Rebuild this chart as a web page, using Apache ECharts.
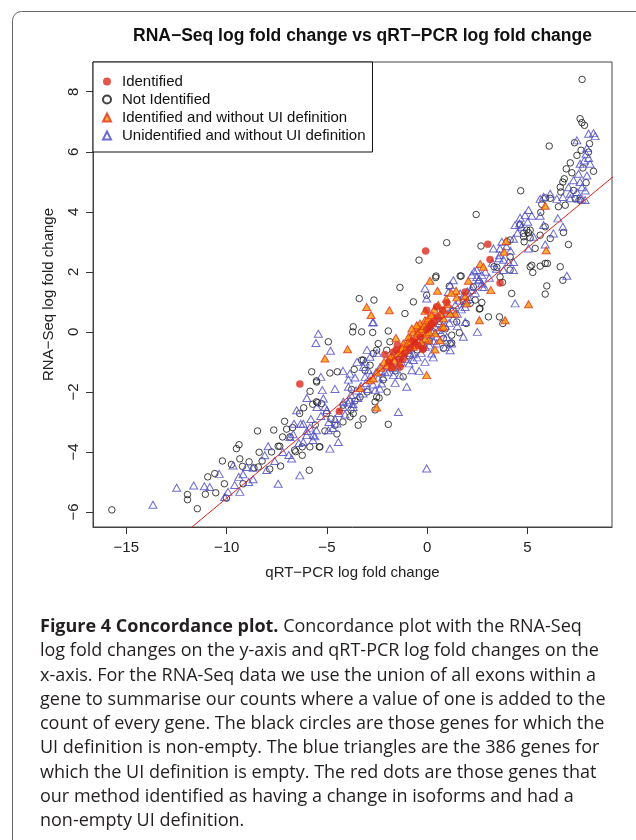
<!DOCTYPE html>
<html>
<head>
<meta charset="utf-8">
<script src="https://cdn.jsdelivr.net/npm/echarts@6/dist/echarts.min.js"></script>
<style>
  html, body { margin: 0; padding: 0; background: #fff; }
  #main { width: 636px; height: 840px; }
</style>
</head>
<body>
<div id="main"></div>
<script>
// tick labels
var xTicks = [-15, -10, -5, 0, 5];
var yTicks = [-6, -4, -2, 0, 2, 4, 6, 8];

// fitted red line
var fitSlope = 0.556;
var fitIntercept = 0.02;
var fitRangeX = [-12.5, 9.5];

// black open circles
var notIdentified = [
  [-15.72,-5.93],[-11.95,-5.42],[-11.95,-5.59],[-11.46,-5.89],[-11.06,-5.41],[-10.54,-5.36],[-10.94,-4.83],
  [-10.59,-4.72],[-10.11,-5.06],[-10.01,-5.54],[-10.21,-4.30],[-9.76,-4.42],[-9.51,-3.89],[-9.38,-3.76],
  [-9.18,-5.06],[-9.34,-4.23],[-9.21,-4.48],[-8.88,-4.33],[-8.64,-4.53],[-8.42,-4.50],[-8.23,-4.30],
  [-8.38,-4.01],[-7.85,-4.57],[-7.76,-4.0],[-8.46,-3.30],[-7.65,-3.27],[-7.35,-3.81],[-7.31,-4.47],
  [-7.11,-2.98],[-7.01,-3.24],[-7.21,-3.5],[-6.84,-3.5],[-6.71,-3.19],[-6.61,-3.94],[-6.56,-3.99],
  [-6.23,-4.11],[-6.23,-3.83],[-6.16,-2.53],[-6.36,-2.72],[-5.84,-1.98],[-5.76,-1.33],[-5.51,-1.67],
  [-5.71,-2.41],[-5.47,-2.36],[-5.88,-4.61],[-5.58,-3.1],[-5.85,-3.83],[-5.38,-3.83],[-7.43,-3.81],
  [-3.39,1.11],[-2.655,1.06],[-0.69,1.0],[-1.11,0.61],[-3.69,0.17],[-3.72,0.0],[-3.27,0.0],[-2.72,-0.02],
  [-1.94,0.03],[-4.93,-0.33],[-2.44,-0.39],[-1.86,-0.33],[-2.02,-0.61],[-3.27,-0.94],[-3.64,-1.25],
  [-4.85,-1.37],[-4.48,-1.33],[-5.52,-1.63],[-3.77,-1.92],[-3.35,-2.17],[-5.52,-2.33],[-5.27,-2.39],
  [-5.02,-2.72],[-4.19,-2.44],[-3.69,-2.72],[-3.44,-3.11],[-4.6,-3.11],[-1.94,-3.08],[-5.35,-3.83],
  [-3.85,-2.83],[-2.6,-2.33],[-2.52,-2.17],
  [4.66,4.70],[2.44,3.91],[0.97,2.97],[-0.41,2.39],[2.68,2.86],[-1.36,1.48],[0.42,1.81],[1.69,1.86],
  [-0.03,1.22],[2.63,0.78],[3.05,0.50],[3.6,0.50],[3.77,0.28],[1.94,0.28],[1.6,-0.03],[1.22,-0.37],
  [0.81,-0.22],[4.8,3.28],[4.83,3.0],[5.05,3.30],[3.47,2.15],[3.63,1.83],[3.99,3.0],[2.14,0.95],
  [2.39,1.06],[5.13,2.17],[4.13,2.5],[-1.36,-0.72],
  [7.72,8.41],[7.62,7.10],[7.71,6.97],[7.84,6.88],[6.08,6.19],[7.34,6.30],[7.67,6.05],[7.46,5.88],
  [8.09,6.27],[8.04,5.99],[7.13,5.63],[6.93,5.43],[7.21,5.30],[8.29,5.35],[7.76,5.46],[6.83,5.10],
  [6.76,4.99],[6.63,4.82],[6.66,4.66],[7.92,4.97],[7.29,4.71],[5.9,4.46],[7.62,4.38],[7.38,4.43],
  [5.71,4.25],[6.54,4.17],[6.88,4.22],[5.66,3.98],[6.13,4.45],[4.63,3.56],[4.96,3.39],[5.13,3.39],
  [4.8,3.17],[5.13,3.13],[5.63,3.22],[5.88,3.5],[6.13,3.11],[6.79,3.31],[7.04,2.91],[5.38,2.78],
  [4.13,3.06],[3.33,2.17],[4.13,2.06],[5.21,2.22],[5.26,1.98],[5.63,2.19],[5.88,2.28],[5.99,2.28],
  [6.63,2.17],[6.76,1.72],[5.96,1.53],[5.88,1.26],[4.21,1.28],[2.72,0.98],[2.6,0.76],[3.75,1.65],
  [0.44,1.86],[1.64,1.86],[1.1,1.52],[1.47,0.33],[1.22,-0.11],[0.81,-0.55],[1.14,-0.39],[-2.52,-0.61],
  [-2.69,-0.72],[-3.19,-0.94],[-2.85,-1.11],[-3.1,-1.28],
  [-0.5,-0.6],[-0.2,-0.45],[0.1,-0.3],[0.3,0.0],[0.6,0.35],[-0.9,-0.8],[-1.6,-1.3],[-2.2,-1.6],
  [-3.0,-2.0],[-3.6,-2.3],[0.9,0.1],[1.3,0.7],[1.8,1.0],[2.3,1.5],[-1.2,-1.5],[-2.0,-2.0],[-2.4,-2.2],
  [-3.8,-2.6],[-4.2,-3.0],[-4.8,-2.9],[-5.1,-3.3],[-4.5,-3.4],[-3.2,-2.9],[-2.6,-2.6]
];

// blue open triangles
var unidentifiedNoUI = [
  [-13.67,-5.76],[-12.49,-5.19],[-11.64,-5.12],[-11.11,-5.14],[-10.84,-5.17],[-10.37,-4.73],[-9.93,-5.33],
  [-9.34,-5.33],[-9.68,-4.45],[-9.39,-4.83],[-9.18,-4.74],[-9.01,-4.5],[-8.68,-4.53],[-8.68,-4.91],
  [-7.93,-3.81],[-8.1,-4.11],[-7.43,-5.06],[-6.84,-3.5],[-6.76,-4.22],[-6.51,-2.61],[-6.64,-3.06],
  [-6.31,-3.06],[-6.18,-3.06],[-6.35,-4.78],[-6.68,-3.41],[-6.01,-3.44],[-5.85,-3.19],[-5.6,-3.48],
  [-6.18,-3.67],
  [-5.43,-0.06],[-5.55,-0.37],[-4.82,-0.63],[-2.72,0.31],[-5.23,-1.94],[-5.18,-2.22],[-5.1,-2.5],
  [-4.18,-2.33],[-3.93,-1.83],[-3.93,-1.59],[-3.85,-1.39],[-3.6,-1.52],[-3.1,-0.99],[-2.94,-1.28],
  [-2.36,-1.89],[-2.27,-1.72],[-2.6,-1.94],[-1.02,-1.83],[-1.44,-2.67],[-5.52,-3.28],[-4.93,-3.28],
  [-4.85,-3.89],[-4.43,-3.67],[-5.68,-3.44],[-0.03,-4.55],[-0.77,-1.28],[-0.11,-1.0],[-1.69,-1.44],
  [-2.11,-1.33],[-3.85,-2.28],[-3.69,-2.5],[-2.85,-0.83],[-3.19,-1.17],[-1.36,-1.44],[-0.69,-0.94],
  [4.6,3.61],[5.01,3.67],[4.88,3.89],[3.3,2.78],[3.57,2.45],[3.8,2.06],[4.05,2.33],[4.3,2.06],
  [2.47,2.06],[2.22,1.89],[1.3,1.72],[1.14,1.56],[-0.11,1.45],[-0.03,1.11],[1.05,1.33],[2.22,1.39],
  [2.85,1.5],[4.38,0.95],[2.5,0.0],[1.8,-0.16],[1.22,-0.39],[0.89,-0.5],[2.55,1.72],[2.72,1.61],
  [1.97,1.06],[1.64,1.28],[1.89,0.83],
  [7.46,6.38],[8.04,6.6],[8.29,6.62],[8.37,6.52],[7.96,6.12],[7.92,5.93],[8.04,5.79],[7.82,5.71],
  [8.12,5.6],[7.62,5.6],[7.96,5.21],[7.54,5.27],[7.29,5.05],[7.62,4.99],[7.71,4.82],[7.04,4.82],
  [7.13,4.6],[7.46,4.66],[6.13,4.6],[5.63,4.43],[6.76,4.49],[7.71,4.43],[7.88,4.71],[6.46,4.43],
  [5.05,4.06],[4.63,3.8],[5.21,3.87],[5.63,3.87],[6.51,3.78],[4.38,3.56],[5.8,3.56],[6.76,3.5],
  [5.3,3.17],[6.29,3.28],[3.63,2.78],[5.88,2.91],[5.05,2.78],[4.3,2.33],[6.96,1.87],[2.47,1.83],
  [2.72,1.89],[2.34,2.02],[7.87,4.39],[7.54,4.45],[7.13,4.45],[5.8,4.5],[3.72,3.0],
  [-2.69,0.33],[1.89,0.33],[0.56,0.06],[0.97,-0.17],[-0.86,-0.7],[-3.1,-1.5],[-2.35,-1.17],
  [1.14,-0.61],[0.47,-0.39],[0.22,-0.72],
  [-4.6,-2.9],[-4.4,-2.7],[-4.2,-2.5],[-4.1,-2.75],[-3.95,-2.35],[-3.8,-2.1],[-3.7,-2.4],[-3.55,-1.95],
  [-3.45,-2.2],[-3.3,-1.8],[-3.2,-2.05],[-3.05,-1.7],[-2.95,-1.9],[-2.8,-1.45],[-2.7,-1.75],[-2.55,-1.35],
  [-2.45,-1.55],[-2.3,-1.3],[-2.2,-1.5],[-2.05,-1.15],[-1.95,-1.35],[-1.85,-1.05],[-1.7,-1.2],[-1.6,-0.95],
  [-1.5,-1.15],[-1.4,-0.8],[-1.3,-1.0],[-1.2,-0.7],[-1.1,-0.9],[-1.0,-0.6],[-0.9,-1.05],[-0.8,-0.5],
  [-0.7,-0.75],[-0.6,-0.4],[-0.5,-0.85],[-0.4,-0.3],[-0.3,-0.7],[-0.2,-0.25],[-0.1,-0.5],[0.0,-0.1],
  [0.1,-0.45],[0.2,0.05],[0.3,-0.3],[0.4,0.15],[0.5,-0.15],[0.6,0.3],[0.7,-0.05],[0.8,0.45],[0.9,0.2],
  [1.0,0.6],[1.1,0.3],[1.2,0.75],[1.3,0.45],[1.4,0.9],[1.5,0.6],[1.6,1.05],[1.7,0.75],[1.8,1.2],
  [1.9,0.95],[2.0,1.35],[2.1,1.1],[2.25,1.5],[2.4,1.3],[2.6,1.75],[2.75,1.5],[2.9,2.0],[3.1,1.8],
  [3.25,2.3],[3.45,2.1],[3.6,2.55],[3.8,2.4],[3.95,2.85],[4.15,2.7],[4.3,3.1],[4.5,3.3],[4.7,3.5],
  [-5.3,-2.8],[-5.0,-2.6],[-4.9,-3.0],[-4.7,-3.2],[-4.5,-3.05],[-5.5,-2.5],[-5.8,-2.9],[-6.0,-3.3],
  [-5.7,-3.6],[-6.4,-3.7],[-6.9,-4.1],[-7.2,-4.0],[-7.6,-4.3],[-8.0,-4.6],[-8.9,-5.0],[-9.6,-5.1],
  [-10.1,-5.5],[-6.0,-2.2],[-5.3,-1.5],[-4.6,-1.9],[-4.2,-1.3],[-3.5,-1.0],[-3.0,-0.6],[-2.5,-0.7],
  [-1.6,-1.7],[-0.4,-1.3],[0.3,-0.85],[1.5,0.2]
];

// orange filled triangles
var identifiedNoUI = [
  [-3.02,0.83],[-2.8,0.56],[-1.89,0.72],[-3.97,-0.58],[-5.1,-0.89],[-0.11,0.70],[-1.56,-0.2],
  [-3.35,-1.87],[-2.85,-1.61],[-2.69,-1.55],[-2.52,-2.52],[-1.77,-0.81],[-1.36,-1.05],[-0.86,-0.17],
  [-0.36,0.11],[0.06,-0.28],[-0.03,-1.44],[-1.27,-0.67],
  [3.93,3.03],[3.83,2.67],[2.64,2.26],[2.8,2.17],[0.14,1.70],[0.51,1.37],[2.05,1.70],[3.17,1.39],
  [1.89,1.19],[1.47,1.15],[1.02,0.92],[5.05,0.92],[0.27,0.56],[2.6,0.39],[3.88,0.39],[0.81,0.45],
  [1.39,0.61],[0.72,0.15],[0.06,0.33],[-0.49,0.17],[-0.69,0.0],[0.39,-0.05],[-0.36,0.28],[-0.99,-0.39],
  [-1.19,-0.5],[0.39,-0.59],[-0.11,-0.22],[0.81,0.17],
  [5.88,4.2],[5.93,2.72],[1.44,1.37],[1.97,0.95],[0.81,0.72],[-0.11,0.39],[0.22,0.28],[-0.53,0.22],
  [-0.77,0.11],[-0.36,0.0],[-0.03,-0.05],[-0.94,-0.17],[-1.19,-0.39],[-0.69,-0.5],[-1.36,-0.61],
  [-1.94,-0.94],[-1.77,-1.17],[0.64,-0.28],[1.14,0.61],
  [-2.5,-1.35],[-2.3,-1.2],[-2.15,-1.0],[-2.0,-1.1],[-1.85,-0.85],[-1.65,-0.95],[-1.45,-0.7],
  [-1.25,-0.55],[-1.1,-0.6],[-0.95,-0.35],[-0.8,-0.3],[-0.6,-0.15],[-0.45,-0.05],[-0.25,0.1],
  [-0.15,0.2],[0.05,0.45],[0.2,0.55],[0.35,0.75],[0.55,0.9],[0.65,0.6],[0.95,1.1],[1.2,1.3],
  [-0.55,-0.45],[-0.3,-0.35],[0.1,0.0]
];

// red filled dots
var identified = [
  [-6.35,-1.74],[-4.38,-2.64],[-2.11,-0.75],[-1.39,-0.92],[-1.49,-0.44],[-1.77,-1.17],[-0.19,-0.55],
  [-0.08,2.69],[3.02,2.92],[3.13,2.41],[3.63,1.63],[1.89,1.33],[0.97,0.97],[0.77,0.72],[0.51,0.50],
  [0.22,0.28],[-0.03,0.08],[-0.36,-0.17],[-0.61,-0.37],[-0.86,-0.55],[-0.23,-0.59],[-1.11,-0.72],
  [-0.03,0.72],[0.47,0.84],[-1.36,-1.17],[-1.69,-0.67],
  [-1.9,-1.0],[-1.2,-0.9],[-0.7,-0.3],[-0.45,-0.45],[0.1,0.15],[0.35,0.35],[-1.55,-0.6]
];

var captionLines = [
  '{b|Figure 4 Concordance plot.} Concordance plot with the RNA-Seq',
  'log fold changes on the y-axis and qRT-PCR log fold changes on the',
  'x-axis. For the RNA-Seq data we use the union of all exons within a',
  'gene to summarise our counts where a value of one is added to the',
  'count of every gene. The black circles are those genes for which the',
  'UI definition is non-empty. The blue triangles are the 386 genes for',
  'which the UI definition is empty. The red dots are those genes that',
  'our method identified as having a change in isoforms and had a',
  'non-empty UI definition.'
];

var fitLine = fitRangeX.map(function (x) { return [x, fitSlope * x + fitIntercept]; });
function minus(v) { return String(v).replace('-', '\u2212'); }

var chart = echarts.init(document.getElementById('main'));

var caption = captionLines.map(function (t, i) {
  return {
    type: 'text',
    x: 40,
    y: 627 + i * 24.25,
    style: {
      text: t,
      font: '18px "Open Sans"',
      fill: '#231f20',
      verticalAlign: 'middle',
      rich: { b: { fontWeight: 'bold', fontFamily: 'Open Sans', fontSize: 18, fill: '#231f20' } }
    }
  };
});

var axisFont = { fontFamily: 'Liberation Sans', fontSize: 15, color: '#222' };

chart.setOption({
  animation: false,
  backgroundColor: '#fff',
  title: {
    text: 'RNA\u2212Seq log fold change vs qRT\u2212PCR log fold change',
    left: 133,
    top: 27,
    padding: 0,
    textStyle: { fontFamily: 'Liberation Sans', fontWeight: 'bold', fontSize: 17.5, color: '#111' }
  },
  legend: {
    orient: 'vertical',
    left: 93,
    top: 62,
    padding: [12, 7, 9, 9],
    itemGap: 3,
    itemWidth: 8,
    itemHeight: 8,
    borderColor: '#111',
    borderWidth: 1,
    backgroundColor: '#fff',
    selectedMode: false,
    textStyle: { fontFamily: 'Liberation Sans', fontSize: 15, color: '#111', padding: [0, 0, 0, 6] },
    data: ['Identified', 'Not Identified', 'Identified and without UI definition',
           'Unidentified and without UI definition']
  },
  grid: {
    left: 93, right: 24, top: 62, bottom: 313,
    show: true, borderColor: '#444', borderWidth: 1,
    outerBoundsMode: 'none'
  },
  xAxis: {
    type: 'value',
    min: -16.66, max: 9.21,
    name: 'qRT\u2212PCR log fold change',
    nameLocation: 'middle',
    nameGap: 38,
    nameTextStyle: axisFont,
    axisLine: { show: true, onZero: false, lineStyle: { color: '#444' } },
    axisTick: { show: true, length: 7, customValues: xTicks, lineStyle: { color: '#333' } },
    axisLabel: { customValues: xTicks, margin: 13, formatter: minus,
                 fontFamily: 'Liberation Sans', fontSize: 15, color: '#222' },
    splitLine: { show: false }
  },
  yAxis: {
    type: 'value',
    min: -6.5, max: 8.99,
    name: 'RNA\u2212Seq log fold change',
    nameLocation: 'middle',
    nameRotate: 90,
    nameGap: 37,
    nameTextStyle: axisFont,
    axisLine: { show: true, onZero: false, lineStyle: { color: '#444' } },
    axisTick: { show: true, length: 7, customValues: yTicks, lineStyle: { color: '#333' } },
    axisLabel: { customValues: yTicks, rotate: 90, margin: 12, formatter: minus,
                 fontFamily: 'Liberation Sans', fontSize: 15, color: '#222' },
    splitLine: { show: false }
  },
  graphic: [
    { type: 'rect', shape: { x: 12.5, y: 11.5, width: 700, height: 900, r: 9 },
      style: { fill: 'none', stroke: '#666', lineWidth: 1 }, silent: true }
  ].concat(caption),
  series: [
    {
      name: 'Not Identified', type: 'scatter', data: notIdentified,
      symbol: 'circle', symbolSize: 6.5,
      itemStyle: { color: 'rgba(0,0,0,0)', borderColor: '#111', borderWidth: 1 }
    },
    {
      name: 'Unidentified and without UI definition', type: 'scatter', data: unidentifiedNoUI,
      symbol: 'triangle', symbolSize: [8, 7],
      itemStyle: { color: 'rgba(0,0,0,0)', borderColor: '#4848c4', borderWidth: 1 }
    },
    {
      name: 'Identified and without UI definition', type: 'scatter', data: identifiedNoUI,
      symbol: 'triangle', symbolSize: [8, 7],
      itemStyle: { color: '#ff9c00', borderColor: '#e0321c', borderWidth: 1 }
    },
    {
      name: 'Identified', type: 'scatter', data: identified,
      symbol: 'circle', symbolSize: 7.5,
      itemStyle: { color: '#dc2c1e' }
    },
    {
      name: 'fit', type: 'line', data: fitLine, showSymbol: false, symbol: 'none',
      lineStyle: { color: '#e0201a', width: 1 }, z: 3, silent: true
    }
  ]
});
</script>
</body>
</html>
